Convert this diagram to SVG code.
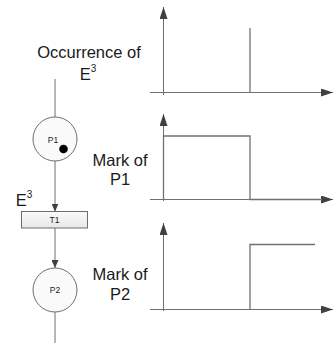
<svg xmlns="http://www.w3.org/2000/svg" width="333" height="345" viewBox="0 0 333 345">
<style>
.ln{stroke:#6e6e6e;stroke-width:1;fill:none}
.sig{stroke:#707070;stroke-width:1.3;fill:none}
.pl{fill:#fafafa;stroke:#6e6e6e;stroke-width:1}
.big{font-family:"Liberation Sans",Arial,sans-serif;font-size:16.5px;fill:#1a1a1a;text-anchor:middle}
.sm{font-family:"Liberation Sans",Arial,sans-serif;font-size:8.5px;fill:#1a1a1a;text-anchor:middle}
</style>
<defs>
<marker id="ah" viewBox="0 0 12 8" refX="12" refY="4" markerWidth="12" markerHeight="8" markerUnits="userSpaceOnUse" orient="auto">
<path d="M0,0 L12,4 L0,8 Z" fill="#404040"/>
</marker>
<marker id="sa" viewBox="0 0 8 7" refX="8" refY="3.5" markerWidth="8" markerHeight="7" markerUnits="userSpaceOnUse" orient="auto">
<path d="M0,0 L8,3.5 L0,7 Z" fill="#404040"/>
</marker>
<linearGradient id="tg" x1="0" y1="0" x2="0" y2="1">
<stop offset="0" stop-color="#fbfbfb"/>
<stop offset="1" stop-color="#e8e8e8"/>
</linearGradient>
</defs>
<g id="connectors">
<line class="ln" x1="55" y1="79" x2="55" y2="117"/>
<line class="ln" x1="55" y1="161" x2="55" y2="211.5" marker-end="url(#sa)"/>
<line class="ln" x1="55" y1="228" x2="55" y2="268" marker-end="url(#sa)"/>
<line class="ln" x1="55" y1="312" x2="55" y2="343"/>
</g>
<g id="P1">
<circle class="pl" cx="55" cy="139" r="22"/>
<text class="sm" x="53" y="143">P1</text>
<circle cx="63.5" cy="149" r="4.3" fill="#000"/>
</g>
<g id="T1">
<rect x="21.5" y="211.5" width="66" height="16.5" fill="url(#tg)" stroke="#6e6e6e" stroke-width="1"/>
<text class="sm" x="54.5" y="222.5">T1</text>
</g>
<g id="P2">
<circle class="pl" cx="55" cy="290" r="22"/>
<text class="sm" x="55" y="293">P2</text>
</g>
<g id="labels">
<text class="big" x="89" y="58">Occurrence of</text>
<text class="big" x="88" y="80">E<tspan font-size="10" dy="-8">3</tspan></text>
<text class="big" x="120" y="166">Mark of</text>
<text class="big" x="120" y="185">P1</text>
<text class="big" x="120" y="280">Mark of</text>
<text class="big" x="120" y="300">P2</text>
<text class="big" x="24" y="206">E<tspan font-size="10" dy="-8">3</tspan></text>
</g>
<g id="chart1">
<line class="ln" x1="163.5" y1="95" x2="163.5" y2="7" marker-end="url(#ah)"/>
<line class="ln" x1="150" y1="92.5" x2="333" y2="92.5" marker-end="url(#ah)"/>
<line class="sig" x1="250" y1="28" x2="250" y2="92.5"/>
</g>
<g id="chart2">
<line class="ln" x1="163.5" y1="201" x2="163.5" y2="114" marker-end="url(#ah)"/>
<line class="ln" x1="150" y1="199.5" x2="333" y2="199.5" marker-end="url(#ah)"/>
<polyline class="sig" points="163.5,199.5 163.5,136 250,136 250,199.5 322,199.5"/>
</g>
<g id="chart3">
<line class="ln" x1="163.5" y1="311" x2="163.5" y2="223" marker-end="url(#ah)"/>
<line class="ln" x1="150" y1="309.5" x2="333" y2="309.5" marker-end="url(#ah)"/>
<polyline class="sig" points="250,309.5 250,244.5 315,244.5"/>
</g>
</svg>
